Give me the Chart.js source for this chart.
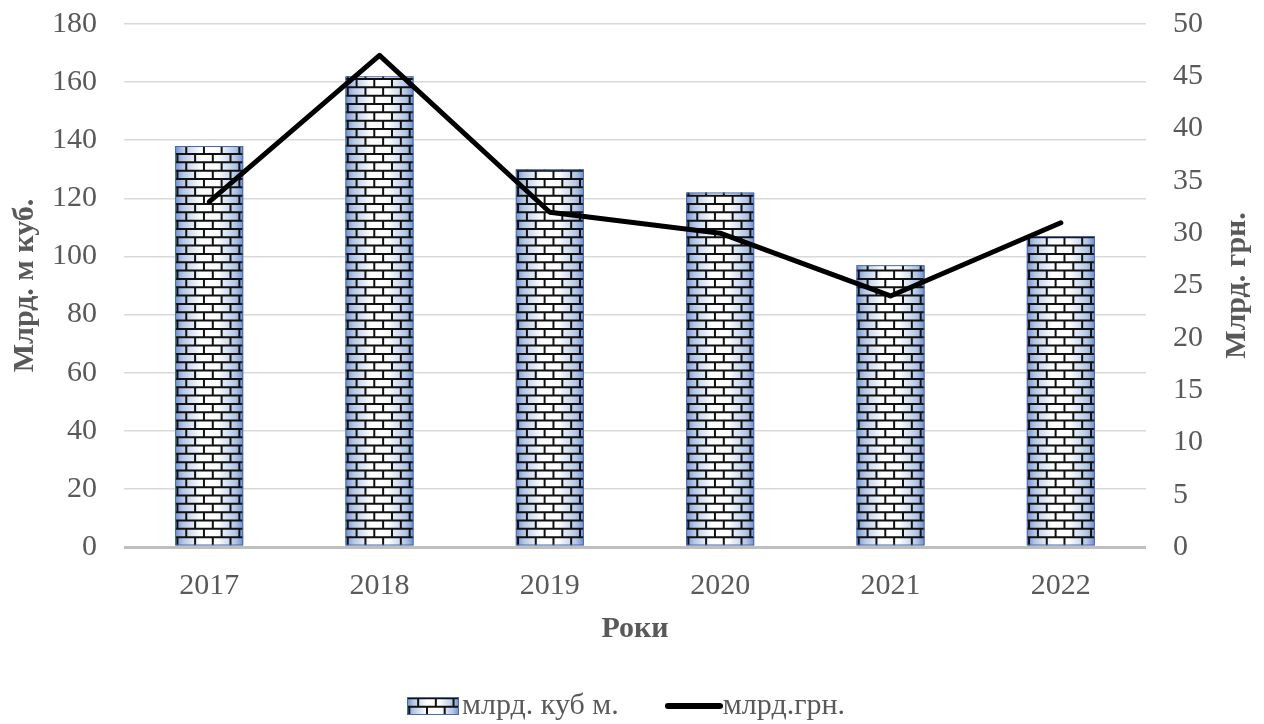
<!DOCTYPE html>
<html><head><meta charset="utf-8">
<script src="https://cdn.jsdelivr.net/npm/chart.js@4/dist/chart.umd.min.js"></script>
<style>html,body{margin:0;padding:0;background:#fff;overflow:hidden}</style>
</head><body>
<canvas id="c" width="1264" height="724" style="display:block;width:1264px;height:724px"></canvas>
<script>
const years = ['2017', '2018', '2019', '2020', '2021', '2022'];
const volumeValues = [138, 162, 130, 122, 97, 107];
const moneyValues = [33, 47, 32, 30, 24, 31];
const volumeLabel = 'млрд. куб м.';
const moneyLabel = 'млрд.грн.';
const leftTitle = 'Млрд. м куб.';
const rightTitle = 'Млрд. грн.';
const xTitle = 'Роки';

const FONT = 'Liberation Serif';
const TXT = '#595959';

function paintBricks(ctx, left, top, right, bottom) {
  ctx.save();
  ctx.beginPath();
  ctx.rect(left, top, right - left, bottom - top);
  ctx.clip();
  const g = ctx.createLinearGradient(left, 0, right, 0);
  g.addColorStop(0, '#6f8fcf');
  g.addColorStop(0.12, '#b4c7e7');
  g.addColorStop(0.38, '#ffffff');
  g.addColorStop(0.62, '#ffffff');
  g.addColorStop(0.88, '#b4c7e7');
  g.addColorStop(1, '#6f8fcf');
  ctx.fillStyle = g;
  ctx.fillRect(left, top, right - left, bottom - top);
  ctx.strokeStyle = '#111111';
  ctx.lineWidth = 2;
  const rowH = 8.33, brickW = 17.7;
  ctx.beginPath();
  for (let i = 0; ; i++) {
    const yb = bottom - i * rowH;
    const yt = yb - rowH;
    if (yb < top) break;
    ctx.moveTo(left, yt); ctx.lineTo(right, yt);
    const off = (i % 2) ? brickW / 2 : 0;
    for (let x = left + 2.3 + off - brickW; x < right; x += brickW) {
      ctx.moveTo(x, yt); ctx.lineTo(x, yb);
    }
  }
  ctx.stroke();
  ctx.restore();
  ctx.save();
  ctx.strokeStyle = '#4a6aa8';
  ctx.lineWidth = 1;
  ctx.strokeRect(left + 0.5, top + 0.5, right - left - 1, bottom - top - 1);
  ctx.restore();
}

const legendIcon = document.createElement('canvas');
legendIcon.width = 52; legendIcon.height = 18;
paintBricks(legendIcon.getContext('2d'), 0, 0, 52, 18);

const lineIcon = document.createElement('canvas');
lineIcon.width = 58; lineIcon.height = 10;
(function () {
  const c = lineIcon.getContext('2d');
  c.strokeStyle = '#000';
  c.lineWidth = 6;
  c.lineCap = 'round';
  c.beginPath(); c.moveTo(3, 5); c.lineTo(55, 5); c.stroke();
})();

const brickPlugin = {
  id: 'brickPlugin',
  afterDatasetDraw(chart, args) {
    if (args.index !== 0) return;
    const ctx = chart.ctx;
    args.meta.data.forEach(el => {
      const p = el.getProps(['x', 'y', 'base', 'width'], true);
      const left = p.x - p.width / 2, right = p.x + p.width / 2;
      const top = Math.min(p.y, p.base), bottom = Math.max(p.y, p.base);
      paintBricks(ctx, left, top, right, bottom);
    });
  },
  afterDraw(chart) {
    const ctx = chart.ctx;
    const a = chart.chartArea;
    ctx.save();
    ctx.translate(1237, (a.top + a.bottom) / 2);
    ctx.rotate(-Math.PI / 2);
    ctx.font = 'bold 30px "' + FONT + '"';
    ctx.fillStyle = TXT;
    ctx.textAlign = 'center';
    ctx.textBaseline = 'middle';
    ctx.fillText(rightTitle, 0, 0);
    ctx.restore();
  }
};

new Chart(document.getElementById('c'), {
  type: 'bar',
  data: {
    labels: years,
    datasets: [
      {
        type: 'bar',
        label: volumeLabel,
        data: volumeValues,
        yAxisID: 'y',
        backgroundColor: '#b4c7e7',
        borderWidth: 0,
        barPercentage: 0.4,
        categoryPercentage: 1.0,
        order: 2
      },
      {
        type: 'line',
        label: moneyLabel,
        data: moneyValues,
        yAxisID: 'y1',
        borderColor: '#000000',
        backgroundColor: '#000000',
        borderWidth: 5,
        borderCapStyle: 'round',
        borderJoinStyle: 'round',
        pointRadius: 0,
        tension: 0,
        order: 1
      }
    ]
  },
  plugins: [brickPlugin],
  options: {
    responsive: false,
    animation: false,
    devicePixelRatio: 1,
    layout: { padding: { top: 24, left: 0, right: 0, bottom: 0 } },
    plugins: {
      tooltip: { enabled: false },
      legend: {
        position: 'bottom',
        maxHeight: 94,
        labels: {
          usePointStyle: true,
          pointStyleWidth: 28,
          boxHeight: 18,
          padding: 61,
          color: TXT,
          font: { family: FONT, size: 30 },
          generateLabels(chart) {
            return [
              { text: volumeLabel, pointStyle: legendIcon, fillStyle: '#b4c7e7', strokeStyle: '#b4c7e7', lineWidth: 0, datasetIndex: 0, fontColor: TXT },
              { text: moneyLabel, pointStyle: lineIcon, fillStyle: '#000', strokeStyle: '#000', lineWidth: 0, datasetIndex: 1, fontColor: TXT }
            ];
          }
        }
      }
    },
    scales: {
      x: {
        grid: { display: false, drawTicks: false },
        border: { display: false },
        ticks: { color: TXT, font: { family: FONT, size: 30 }, padding: 21 },
        title: { display: true, text: xTitle, color: TXT, font: { family: FONT, size: 30, weight: 'bold' }, padding: { top: 0, bottom: -17 } },
        afterFit(s) { s.height = 83; }
      },
      y: {
        position: 'left',
        min: 0, max: 180,
        ticks: { stepSize: 20, color: TXT, font: { family: FONT, size: 30 }, padding: 0 },
        grid: {
          drawTicks: true,
          tickLength: 27,
          tickColor: 'rgba(0,0,0,0)',
          color: ctx => ctx.tick && ctx.tick.value === 0 ? '#bfbfbf' : '#d9d9d9',
          lineWidth: ctx => ctx.tick && ctx.tick.value === 0 ? 3 : 1.5
        },
        border: { display: false },
        title: { display: true, text: leftTitle, color: TXT, font: { family: FONT, size: 30, weight: 'bold' }, padding: { top: 7, bottom: 0 } },
        afterFit(s) { s.width = 124; }
      },
      y1: {
        position: 'right',
        min: 0, max: 50,
        ticks: { stepSize: 5, color: TXT, font: { family: FONT, size: 30 }, padding: 0 },
        grid: { display: false, drawTicks: true, tickLength: 27, tickColor: 'rgba(0,0,0,0)' },
        border: { display: false },
        afterFit(s) { s.width = 118; }
      }
    }
  }
});
</script>
</body></html>
